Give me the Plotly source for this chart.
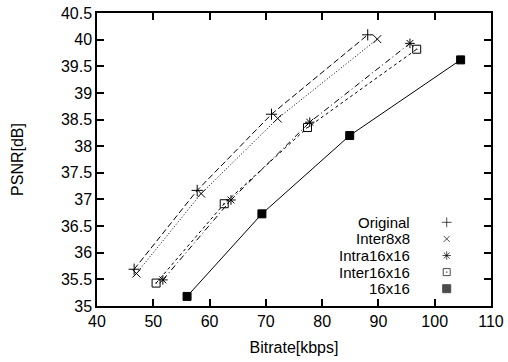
import plotly.graph_objects as go

series_names = ["Original", "Inter8x8", "Intra16x16", "Inter16x16", "16x16"]
bitrate = {
    "Original":   [46.6, 57.8, 71.0, 88.1],
    "Inter8x8":   [47.0, 58.5, 72.1, 89.8],
    "Intra16x16": [51.7, 63.8, 77.8, 95.6],
    "Inter16x16": [50.5, 62.6, 77.4, 96.8],
    "16x16":      [56.0, 69.3, 84.9, 104.6],
}
psnr = {
    "Original":   [35.69, 37.17, 38.60, 40.09],
    "Inter8x8":   [35.61, 37.11, 38.52, 40.01],
    "Intra16x16": [35.49, 36.99, 38.45, 39.93],
    "Inter16x16": [35.43, 36.92, 38.35, 39.82],
    "16x16":      [35.18, 36.73, 38.20, 39.62],
}
x_ticks = [40, 50, 60, 70, 80, 90, 100, 110]
y_ticks = [35, 35.5, 36, 36.5, 37, 37.5, 38, 38.5, 39, 39.5, 40, 40.5]

styles = {
    "Original":   dict(dash="6px,3px", symbol="cross-thin-open", size=8),
    "Inter8x8":   dict(dash="1px,2px", symbol="x-thin-open", size=8),
    "Intra16x16": dict(dash="6px,3px,1px,3px", symbol="asterisk-open", size=8),
    "Inter16x16": dict(dash="3px,3px", symbol="square-open-dot", size=8),
    "16x16":      dict(dash="solid", symbol="square", size=8),
}

FONT = "Liberation Sans, Arial, sans-serif"
FS = 16
LEG_FS = 15
fig = go.Figure()
for name in series_names:
    s = styles[name]
    fig.add_trace(go.Scatter(
        x=bitrate[name], y=psnr[name], mode="lines+markers", name=name,
        line=dict(color="black", width=1, dash=s["dash"]),
        marker=dict(symbol=s["symbol"], size=s["size"], color="black",
                    line=dict(color="black", width=1)),
        showlegend=False, cliponaxis=False))

# custom legend: text right-aligned, symbol on the right
plot_top, plot_h = 13, 293
leg_px = [222.3 + 16.6 * i for i in range(len(series_names))]
leg_y = [(plot_top + plot_h - p) / plot_h for p in leg_px]
for name, yy in zip(series_names, leg_y):
    fig.add_annotation(x=0.800, y=yy, xref="paper", yref="paper", text=name,
                       showarrow=False, xanchor="right", yanchor="middle",
                       font=dict(family=FONT, size=LEG_FS, color="black"))
fig.add_trace(go.Scatter(
    x=[0.8876] * len(series_names), y=leg_y, xaxis="x2", yaxis="y2",
    mode="markers", showlegend=False, hoverinfo="skip", cliponaxis=False,
    marker=dict(symbol=[styles[n]["symbol"] for n in series_names],
                size=[7, 6, 7, 7, 8], color="black",
                line=dict(color="black", width=1))))

axis_common = dict(showline=True, linecolor="black", linewidth=1.5, mirror="ticks",
                   ticks="inside", ticklen=7, tickwidth=1.5, tickcolor="black",
                   showgrid=False, zeroline=False, automargin=False,
                   tickfont=dict(family=FONT, size=FS, color="black"))
fig.update_layout(
    width=508, height=362, margin=dict(l=97, r=17, t=13, b=56),
    paper_bgcolor="white", plot_bgcolor="white",
    xaxis=dict(range=[40, 110], tickvals=x_ticks, ticktext=[str(v) for v in x_ticks],
               title=dict(text="Bitrate[kbps]", font=dict(family=FONT, size=FS, color="black"),
                          standoff=13), **axis_common),
    yaxis=dict(range=[35, 40.5], tickvals=y_ticks, ticktext=[f"{v:g}" for v in y_ticks],
               title=dict(text="PSNR[dB]", font=dict(family=FONT, size=FS, color="black"),
                          standoff=33), **axis_common),
    xaxis2=dict(range=[0, 1], overlaying="x", visible=False),
    yaxis2=dict(range=[0, 1], overlaying="y", visible=False),
)
fig.write_html("out.html")
